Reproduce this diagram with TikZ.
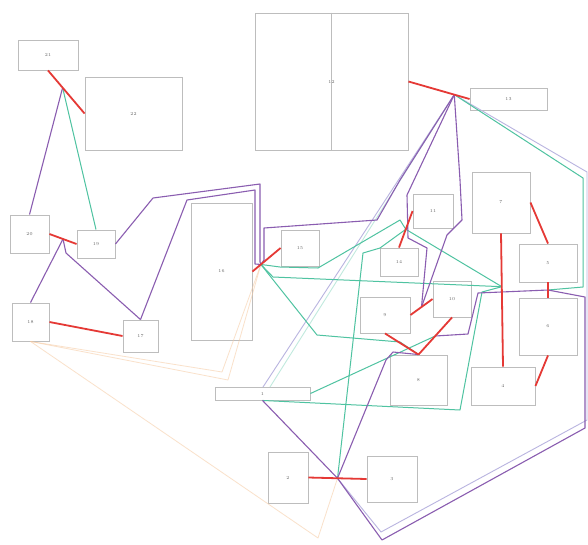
\documentclass[tikz,border=0pt]{standalone}
\usetikzlibrary{calc}
\definecolor{boxgray}{HTML}{BDBDBD}
\definecolor{redl}{HTML}{E53935}
\definecolor{purp}{HTML}{8A5DB0}
\definecolor{teal2}{HTML}{4FC3A1}
\definecolor{lav}{HTML}{B9B4E0}
\definecolor{peach}{HTML}{F6C9A0}
\tikzset{
  box/.style={draw=boxgray, line width=0.9pt, fill=white, inner sep=0pt, font=\fontsize{4.5}{4.5}\selectfont, text=black!60},
  rededge/.style={draw=redl, line width=1.8pt},
  purpedge/.style={draw=purp, line width=1.1pt, line join=round},
  tealedge/.style={draw=teal2, line width=1.0pt, line join=round},
  paleedge/.style={draw=lav, line width=0.9pt, line join=round},
  peachedge/.style={draw=peach, line width=0.8pt, opacity=0.55, line join=round}
}
\begin{document}
\begin{tikzpicture}[x=1pt,y=-1pt]
\useasboundingbox (0,0) rectangle (588,544);
\fill[white] (0,0) rectangle (588,544);
% nodes
\node[box, minimum width=60pt, minimum height=30pt] (n21) at (48,55) {21};
\node[box, minimum width=97pt, minimum height=73pt] (n22) at (133.5,113.5) {22};
\node[box, minimum width=153pt, minimum height=137pt] (n12) at (331.5,81.5) {12};
\draw[boxgray, line width=0.7pt] (n12.north) -- (n12.south);
\node[box, minimum width=77pt, minimum height=22pt] (n13) at (508.5,99) {13};
\node[box, minimum width=39pt, minimum height=38pt] (n20) at (29.5,234) {20};
\node[box, minimum width=38pt, minimum height=28pt] (n19) at (96,244) {19};
\node[box, minimum width=37pt, minimum height=38pt] (n18) at (30.5,322) {18};
\node[box, minimum width=35pt, minimum height=32pt] (n17) at (140.5,336) {17};
\node[box, minimum width=61pt, minimum height=137pt] (n16) at (221.5,271.5) {16};
\node[box, minimum width=38pt, minimum height=36pt] (n15) at (300,248) {15};
\node[box, minimum width=40pt, minimum height=34pt] (n11) at (433,211) {11};
\node[box, minimum width=38pt, minimum height=28pt] (n14) at (399,262) {14};
\node[box, minimum width=50pt, minimum height=36pt] (n9) at (385,315) {9};
\node[box, minimum width=38pt, minimum height=36pt] (n10) at (452,299) {10};
\node[box, minimum width=57pt, minimum height=50pt] (n8) at (418.5,380) {8};
\node[box, minimum width=58pt, minimum height=61pt] (n7) at (501,202.5) {7};
\node[box, minimum width=58pt, minimum height=38pt] (n5) at (548,263) {5};
\node[box, minimum width=58pt, minimum height=57pt] (n6) at (548,326.5) {6};
\node[box, minimum width=64pt, minimum height=38pt] (n4) at (503,386) {4};
\node[box, minimum width=95pt, minimum height=13pt] (n1) at (262.5,393.5) {1};
\node[box, minimum width=40pt, minimum height=51pt] (n2) at (288,477.5) {2};
\node[box, minimum width=50pt, minimum height=46pt] (n3) at (392,479) {3};
% junctions
\coordinate (J2122) at ($(n21.south)!0.4!(n22.west)$);
\coordinate (J2019) at ($(n20.east)!0.5!(n19.west)$);
\coordinate (J1615) at ($(n16.east)!0.3!(n15.west)$);
\coordinate (J1213) at ($(n12.east)!0.75!(n13.west)$);
\coordinate (J1114) at ($(n11.west)!0.5!(n14.north)$);
\coordinate (J910) at ($(n9.east)!0.5!(n10.west)$);
\coordinate (J810) at ($(n8.north)!0.5!(n10.south)$);
\coordinate (J74) at ($(n7.south)!0.4!(n4.north)$);
\coordinate (J56) at ($(n5.south)!0.5!(n6.north)$);
\coordinate (J23) at ($(n2.east)!0.5!(n3.west)$);
% pale peach lines
\draw[peachedge] (n18.south) -- (222,372) -- (J1615);
\draw[peachedge] (n18.south) -- (228,380) -- (J1615);
\draw[peachedge] (n18.south) -- (318,538) -- (J23);
% pale lavender lines
\draw[paleedge] (J1213) -- (263,387);
\draw[paleedge, draw=teal2!35] (J1213) -- (270,387);
\draw[paleedge] (J1213) -- (587,172) -- (587,420) -- (381,532) -- (J23);
% teal
\draw[tealedge] (J2122) -- (n19.north);
\draw[tealedge] (J1615) -- (273,277) -- (J74);
\draw[tealedge] (J1615) -- (317,335) -- (400,342) -- (n8.north);
\draw[tealedge] (J1615) -- (280,267) -- (318,268) -- (400,220) -- (J1114);
\draw[tealedge] (J1213) -- (583,178) -- (583,287) -- (J56);
\draw[tealedge] (J1114) -- (J74);
\draw[tealedge] (n1.south) -- (460,410) -- (482,292) -- (J74);
\draw[tealedge] (n1.east) -- (J810);
\draw[tealedge] (J23) -- (363,253) -- (380,248) -- (J1114);
% purple
\draw[purpedge] (J2122) -- (n20.north);
\draw[purpedge] (J2019) -- (n18.north);
\draw[purpedge] (J2019) -- (66,253) -- (n17.north);
\draw[purpedge] (n19.east) -- (153,198) -- (260,184) -- (260,262) -- (J1615);
\draw[purpedge] (n17.north) -- (187,200) -- (255,190) -- (255,264) -- (J1615);
\draw[purpedge] (J1213) -- (400,180) -- (377,220) -- (264,228) -- (264,260) -- (J1615);
\draw[purpedge] (J1213) -- (407,195) -- (408,238) -- (427,248) -- (J910);
\draw[purpedge] (J1213) -- (460,180) -- (462,220) -- (447,235) -- (J910);
\draw[purpedge] (n1.south) -- (J23) -- (382,540) -- (585,428) -- (585,297) -- (J56);
\draw[purpedge] (J23) -- (386,360) -- (393,352) -- (n8.north);
\draw[purpedge] (J810) -- (468,334) -- (478,293) -- (J56);
% red
\draw[rededge] (n21.south) -- (n22.west);
\draw[rededge] (n20.east) -- (n19.west);
\draw[rededge] (n18.east) -- (n17.west);
\draw[rededge] (n16.east) -- (n15.west);
\draw[rededge] (n12.east) -- (n13.west);
\draw[rededge] (n11.west) -- (n14.north);
\draw[rededge] (n9.east) -- (n10.west);
\draw[rededge] (n9.south) -- (n8.north);
\draw[rededge] (n8.north) -- (n10.south);
\draw[rededge] (n7.east) -- (n5.north);
\draw[rededge] (n5.south) -- (n6.north);
\draw[rededge] (n6.south) -- (n4.east);
\draw[rededge] (n7.south) -- (n4.north);
\draw[rededge] (n2.east) -- (n3.west);
\end{tikzpicture}
\end{document}
